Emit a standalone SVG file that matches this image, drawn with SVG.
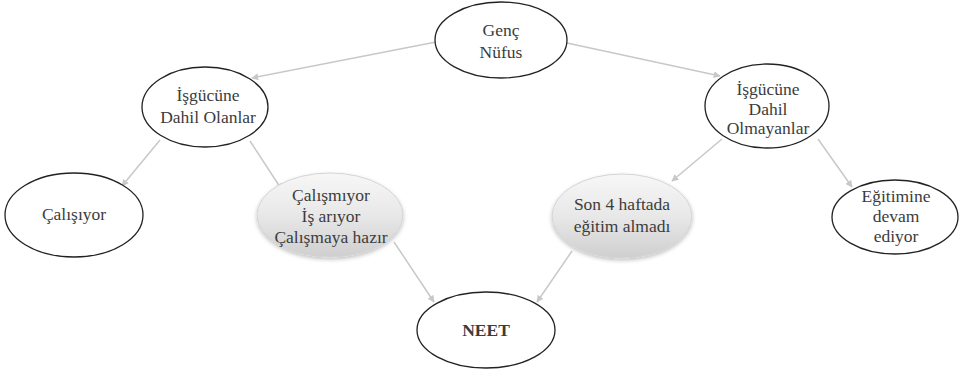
<svg xmlns="http://www.w3.org/2000/svg" width="966" height="373" viewBox="0 0 966 373">
<style>
.n{fill:#fff;stroke:#222;stroke-width:1.3}
.g{fill:url(#gr);stroke:#d4d4d4;stroke-width:1;filter:url(#sh)}
.t{font-family:'Liberation Serif','DejaVu Serif',serif;font-size:17.5px;fill:#3c3c3c;text-anchor:middle}
.b{font-weight:bold}
.c{stroke:#c8c8c8;stroke-width:1.5;fill:none;marker-end:url(#ah)}
</style>
<defs>
<linearGradient id="gr" x1="0" y1="0" x2="0" y2="1">
<stop offset="0" stop-color="#f7f7f7"/>
<stop offset="0.5" stop-color="#e8e8e8"/>
<stop offset="1" stop-color="#cfcfcf"/>
</linearGradient>
<filter id="sh" x="-20%" y="-20%" width="140%" height="150%">
<feGaussianBlur in="SourceAlpha" stdDeviation="2"/>
<feOffset dy="2"/>
<feComponentTransfer><feFuncA type="linear" slope="0.25"/></feComponentTransfer>
<feMerge><feMergeNode/><feMergeNode in="SourceGraphic"/></feMerge>
</filter>
<marker id="ah" viewBox="0 0 10 10" refX="9" refY="5" markerWidth="7" markerHeight="7" orient="auto" markerUnits="userSpaceOnUse">
<path d="M0,0 L10,5 L0,10 z" fill="#c8c8c8"/>
</marker>
</defs>
<g id="connectors">
<line class="c" x1="436" y1="42" x2="252" y2="78"/>
<line class="c" x1="567" y1="43" x2="720" y2="76"/>
<line class="c" x1="160" y1="140" x2="122" y2="186"/>
<line class="c" x1="250" y1="141" x2="282" y2="190"/>
<line class="c" x1="722" y1="139" x2="672" y2="181"/>
<line class="c" x1="818" y1="139" x2="852" y2="187"/>
<line class="c" x1="394" y1="242" x2="434" y2="302"/>
<line class="c" x1="572" y1="251" x2="537" y2="302"/>
</g>
<g id="genc">
<ellipse class="n" cx="501" cy="40" rx="66" ry="38"/>
<text class="t" x="501" y="36">Genç</text>
<text class="t" x="501" y="58">Nüfus</text>
</g>
<g id="olanlar">
<ellipse class="n" cx="205" cy="107" rx="63" ry="40"/>
<text class="t" x="208" y="101">İşgücüne</text>
<text class="t" x="208" y="123">Dahil Olanlar</text>
</g>
<g id="olmayanlar">
<ellipse class="n" cx="767" cy="106" rx="62" ry="42"/>
<text class="t" x="768" y="95">İşgücüne</text>
<text class="t" x="768" y="115">Dahil</text>
<text class="t" x="768" y="134">Olmayanlar</text>
</g>
<g id="calisiyor">
<ellipse class="n" cx="74" cy="215" rx="69" ry="42"/>
<text class="t" x="74" y="220">Çalışıyor</text>
</g>
<g id="calismiyor">
<ellipse class="g" cx="330" cy="215" rx="73" ry="42"/>
<text class="t" x="331" y="201">Çalışmıyor</text>
<text class="t" x="331" y="222">İş arıyor</text>
<text class="t" x="331" y="243">Çalışmaya hazır</text>
</g>
<g id="son4">
<ellipse class="g" cx="622" cy="216" rx="70" ry="42"/>
<text class="t" x="622" y="210">Son 4 haftada</text>
<text class="t" x="622" y="232">eğitim almadı</text>
</g>
<g id="egitim">
<ellipse class="n" cx="895" cy="217" rx="63" ry="37"/>
<text class="t" x="896" y="202">Eğitimine</text>
<text class="t" x="896" y="222">devam</text>
<text class="t" x="896" y="242">ediyor</text>
</g>
<g id="neet">
<ellipse class="n" cx="486" cy="330" rx="69" ry="38"/>
<text class="t b" x="486" y="336">NEET</text>
</g>
</svg>
